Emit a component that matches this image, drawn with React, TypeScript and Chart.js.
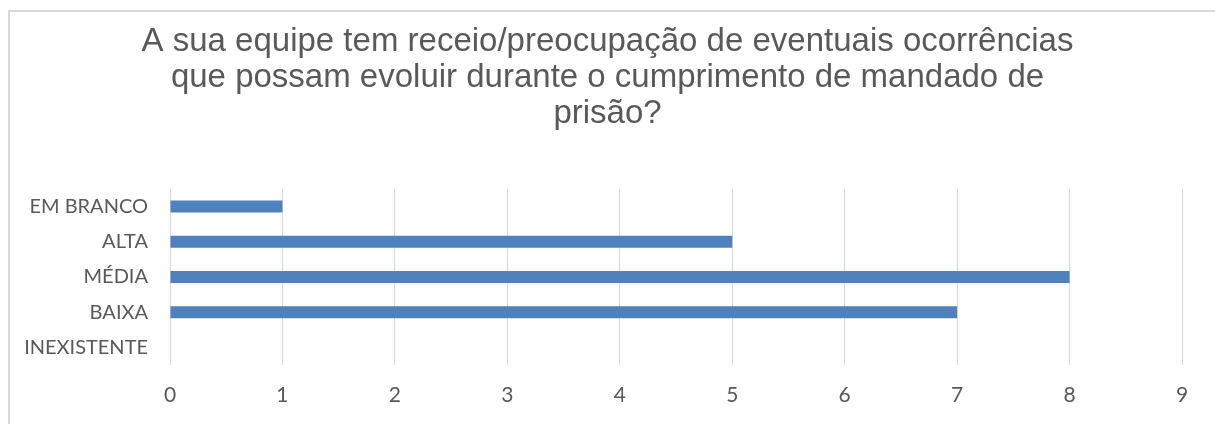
import React, { useEffect, useRef } from "react";
import { Chart, registerables } from "chart.js";

Chart.register(...registerables);

const titleLines = [
  "A sua equipe tem receio/preocupação de eventuais ocorrências",
  "que possam evoluir durante o cumprimento de mandado de",
  "prisão?",
];
const categories = ["EM BRANCO", "ALTA", "MÉDIA", "BAIXA", "INEXISTENTE"];
const values = [1, 5, 8, 7, 0];
const xMin = 0;
const xMax = 9;

export default function App() {
  const ref = useRef<HTMLCanvasElement | null>(null);

  useEffect(() => {
    if (!ref.current) return;
    const chart = new Chart(ref.current, {
      type: "bar",
      data: {
        labels: categories,
        datasets: [
          {
            data: values,
            backgroundColor: "#4F81BD",
            borderWidth: 0,
            barPercentage: 0.34,
            categoryPercentage: 1,
          },
        ],
      },
      options: {
        indexAxis: "y",
        animation: false,
        responsive: false,
        maintainAspectRatio: false,
        layout: { padding: { left: 0, right: 0, top: 0, bottom: 0 } },
        plugins: {
          legend: { display: false },
          tooltip: { enabled: false },
          title: {
            display: true,
            text: titleLines,
            color: "#595959",
            font: { family: "'Liberation Sans', Arial, sans-serif", size: 33, weight: "normal", lineHeight: 1.1 },
            padding: { top: 23.5, bottom: 56.5 },
          },
        },
        scales: {
          x: {
            min: xMin,
            max: xMax,
            ticks: {
              stepSize: 1,
              color: "#595959",
              padding: 18,
              font: { family: "Lato, sans-serif", size: 21 },
            },
            grid: { color: "#D9D9D9", lineWidth: 1, drawTicks: false },
            border: { display: false },
            afterFit: (s: any) => {
              s.height = 59;
            },
          },
          y: {
            ticks: {
              color: "#595959",
              padding: 22,
              font: { family: "Lato, sans-serif", size: 20 },
            },
            grid: { display: false, drawTicks: false },
            border: { display: false },
            afterFit: (s: any) => {
              s.width = 170;
            },
          },
          spacer: {
            type: "linear",
            position: "right",
            display: true,
            ticks: { display: false },
            grid: { display: false, drawTicks: false },
            border: { display: false },
            afterFit: (s: any) => {
              s.width = 33;
            },
          },
        },
      },
    });
    return () => chart.destroy();
  }, []);

  return (
    <div style={{ position: "fixed", left: 0, top: 0, width: 1215, height: 424, background: "#fff" }}>
      <div
        style={{
          position: "absolute",
          left: 8,
          top: 10,
          width: 1215,
          height: 424,
          borderLeft: "2px solid #D9D9D9",
          borderTop: "2px solid #D9D9D9",
        }}
      />
      <canvas ref={ref} width={1215} height={424} style={{ position: "absolute", left: 0, top: 0 }} />
    </div>
  );
}
